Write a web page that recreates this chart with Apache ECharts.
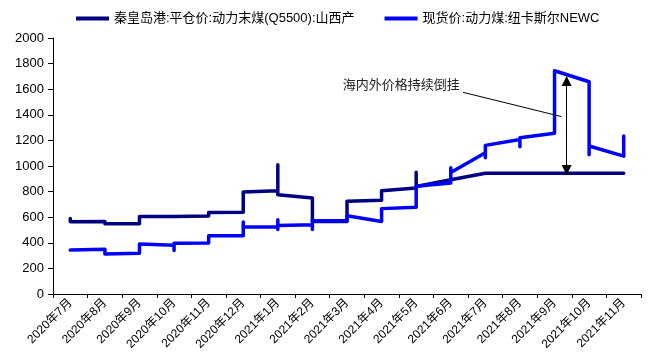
<!DOCTYPE html>
<html>
<head>
<meta charset="utf-8">
<script src="https://cdn.jsdelivr.net/npm/echarts@6/dist/echarts.min.js"></script>
<style>
  html, body { margin: 0; padding: 0; background: #fff; }
  #chart { width: 648px; height: 360px; }
</style>
</head>
<body>
<div id="chart"></div>
<script>
// Month categories along the bottom axis
const months = [
  '2020年7月', '2020年8月', '2020年9月', '2020年10月', '2020年11月', '2020年12月',
  '2021年1月', '2021年2月', '2021年3月', '2021年4月', '2021年5月', '2021年6月',
  '2021年7月', '2021年8月', '2021年9月', '2021年10月', '2021年11月'
];

// Value axis range (元/吨)
const yMin = 0;
const yMax = 2000;
const yStep = 200;

// Series names
const qhdName = '秦皇岛港:平仓价:动力末煤(Q5500):山西产';
const newcName = '现货价:动力煤:纽卡斯尔NEWC';

// Observations within each month, in order (one inner list per month)
const qhdByMonth = [
  [590, 565],
  [567, 548],
  [549, 606],
  [606, 613, 606],
  [610, 636],
  [638, 797],
  [807, 1010, 776],
  [750, 567],
  [567, 724],
  [732, 806],
  [828, 952, 840],
  [893],
  [943],
  [943],
  [943],
  [943],
  [943]
];

const newcByMonth = [
  [343, 339],
  [350, 312],
  [318, 312, 390],
  [380, 340, 396],
  [398, 455],
  [455, 447, 563, 524],
  [526, 580, 504, 536],
  [541, 578, 504, 572],
  [573, 612],
  [567, 667],
  [677, 842],
  [868, 986, 950],
  [1103, 1065, 1161],
  [1207, 1150, 1221],
  [1255, 1744],
  [1658, 1088, 1156],
  [1077, 1235]
];

// Annotation: gap between overseas and domestic prices
const gapNote = '海内外价格持续倒挂';
const gapArrowAt = 14.35;
const gapArrowTop = 1665;
const gapArrowBottom = 968;

const FONT = '"Liberation Sans", Arial, "Noto Sans CJK SC", sans-serif';

// Flatten month groups into [monthIndex, value] points
const toPoints = byMonth => byMonth.flatMap((vals, i) => vals.map(v => [i, v]));

const chart = echarts.init(document.getElementById('chart'), null, { renderer: 'canvas' });

const lineSeries = (name, color, byMonth) => ({
  name: name,
  type: 'line',
  xAxisIndex: 1,
  yAxisIndex: 0,
  data: toPoints(byMonth),
  showSymbol: false,
  symbol: 'none',
  color: color,
  lineStyle: { width: 3.5, color: color, cap: 'round', join: 'round' },
  itemStyle: { color: color },
  emphasis: { disabled: true }
});

const newcSeries = lineSeries(newcName, '#0000ff', newcByMonth);
newcSeries.markLine = {
  silent: true,
  animation: false,
  label: { show: false },
  emphasis: { disabled: true },
  data: [
    [
      { coord: [gapArrowAt, gapArrowTop], symbol: 'triangle', symbolSize: 10 },
      { coord: [gapArrowAt, gapArrowBottom], symbol: 'triangle', symbolSize: 10 }
    ],
    [
      { coord: [11.35, 1576], symbol: 'none' },
      { coord: [14.2, 1386], symbol: 'none' }
    ]
  ],
  lineStyle: { color: '#000', width: 1, type: 'solid', opacity: 1 }
};

chart.setOption({
  animation: false,
  backgroundColor: '#fff',
  grid: { left: 53, right: 7, top: 38, bottom: 66, containLabel: false, outerBoundsMode: 'none' },
  legend: {
    left: 71,
    top: 7,
    icon: 'rect',
    itemWidth: 33,
    itemHeight: 4,
    itemGap: 30,
    textStyle: { fontFamily: FONT, fontSize: 13, color: '#000' },
    data: [qhdName, newcName]
  },
  xAxis: [
    {
      type: 'category',
      data: months,
      boundaryGap: true,
      axisLine: { show: true, onZero: false, lineStyle: { color: '#000', width: 1 } },
      axisTick: { show: true, length: 4, lineStyle: { color: '#000' } },
      axisLabel: {
        interval: 0, rotate: 45, margin: 7,
        fontFamily: FONT, fontSize: 12, color: '#000'
      },
      splitLine: { show: false }
    },
    {
      type: 'value',
      min: -0.5,
      max: months.length - 0.5,
      show: false,
      axisLine: { onZero: false }
    }
  ],
  yAxis: {
    type: 'value',
    position: 'left',
    min: yMin,
    max: yMax,
    interval: yStep,
    axisLine: { show: true, onZero: false, lineStyle: { color: '#000', width: 1 } },
    axisTick: { show: true, length: 5, lineStyle: { color: '#000' } },
    axisLabel: {
      margin: 9, fontFamily: FONT, fontSize: 13, color: '#000',
      formatter: v => String(v)
    },
    splitLine: { show: false }
  },
  series: [
    lineSeries(qhdName, '#000080', qhdByMonth),
    newcSeries
  ]
});

// Place the note text next to the leader line, in data coordinates
const notePos = chart.convertToPixel({ xAxisIndex: 1, yAxisIndex: 0 }, [7.88, 1639]);
chart.setOption({
  graphic: [{
    type: 'text',
    left: notePos[0],
    top: notePos[1] - 7,
    silent: true,
    style: {
      text: gapNote,
      fontFamily: '"Noto Sans CJK SC", sans-serif',
      fontSize: 13,
      fill: '#222'
    }
  }]
});
</script>
</body>
</html>
